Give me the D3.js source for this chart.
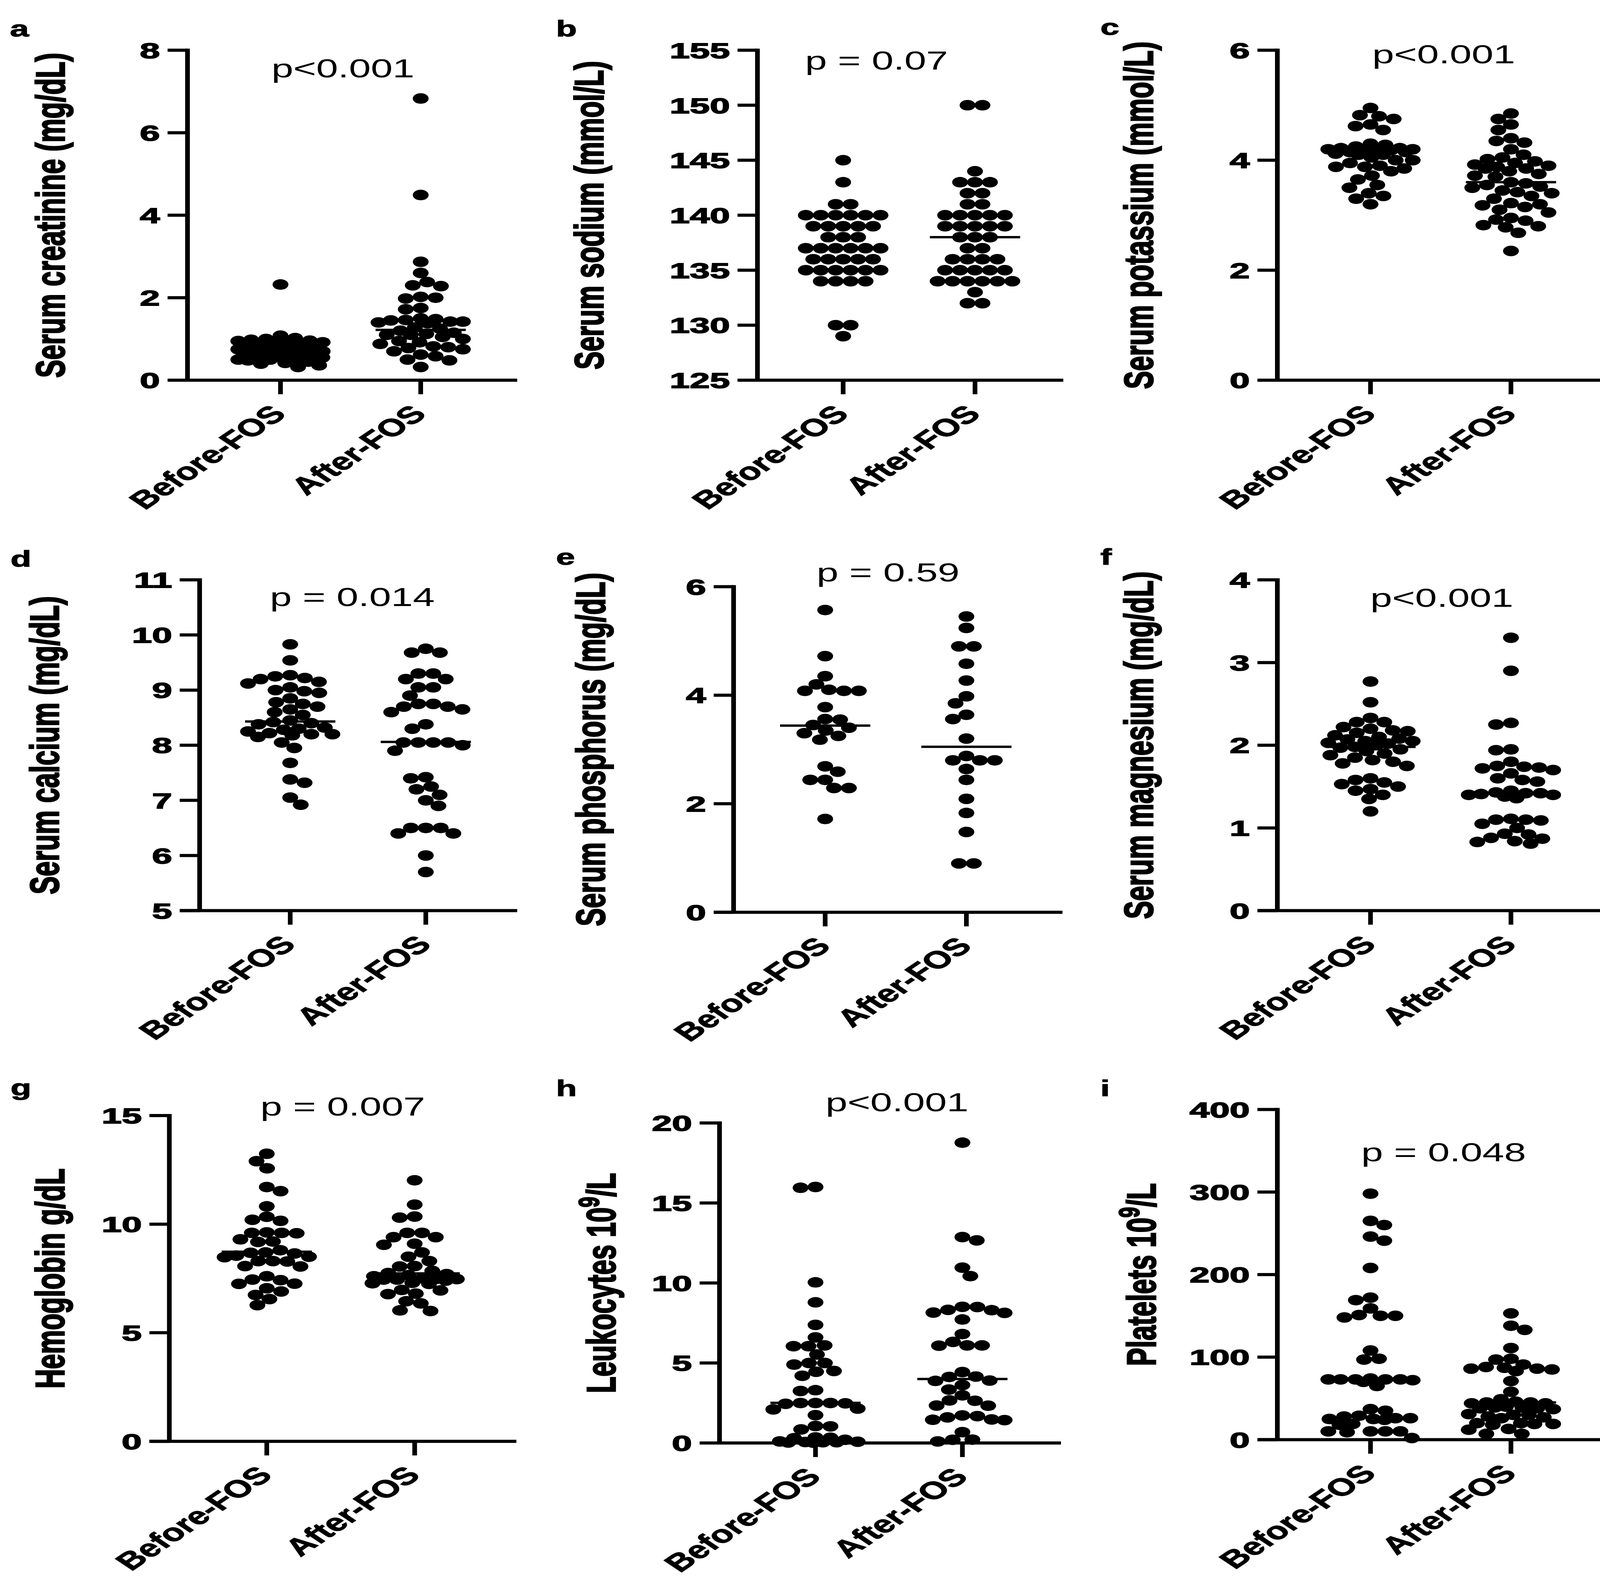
<!DOCTYPE html>
<html><head><meta charset="utf-8">
<script src="https://cdn.jsdelivr.net/npm/d3@7"></script>
<style>html,body{margin:0;padding:0;background:#fff;} svg{display:block;}</style>
</head><body>
<script>
// ---------------- DATA ----------------
const groups = ["Before-FOS", "After-FOS"];

const creatBefore = [2.32, 1.08, 1.02, 1.0, 0.98, 0.96, 0.95, 0.92, 0.9, 0.88, 0.86, 0.85, 0.82, 0.8, 0.8, 0.78, 0.76, 0.75, 0.72, 0.7, 0.7, 0.68, 0.66, 0.65, 0.63, 0.62, 0.6, 0.6, 0.58, 0.56, 0.55, 0.52, 0.5, 0.5, 0.48, 0.45, 0.42, 0.4, 0.36, 0.32];
const creatAfter = [6.83, 4.49, 2.87, 2.6, 2.38, 2.3, 2.28, 2.02, 2.0, 1.98, 1.75, 1.72, 1.5, 1.48, 1.46, 1.45, 1.42, 1.42, 1.4, 1.38, 1.28, 1.25, 1.2, 1.15, 1.12, 1.1, 1.1, 1.05, 1.0, 0.95, 0.92, 0.88, 0.82, 0.8, 0.78, 0.75, 0.7, 0.62, 0.58, 0.5, 0.48, 0.32];
const creatMedian = [0.65, 1.22];

const sodiumBefore = [145, 143, 141, 141, 140, 140, 140, 140, 140, 140, 139, 139, 139, 139, 139, 138, 138, 138, 137, 137, 137, 137, 137, 137, 136, 136, 136, 136, 136, 135, 135, 135, 135, 135, 135, 134, 134, 134, 134, 130, 130, 129];
const sodiumAfter = [150, 150, 144, 143, 143, 143, 142, 142, 141, 141, 140, 140, 140, 140, 140, 139, 139, 139, 139, 139, 138, 138, 138, 137, 137, 136, 136, 136, 136, 135, 135, 135, 135, 135, 134, 134, 134, 134, 134, 134, 133, 132, 132];
const sodiumMedian = [137, 138];

const potBefore = [4.95, 4.82, 4.8, 4.75, 4.65, 4.62, 4.55, 4.3, 4.28, 4.25, 4.22, 4.22, 4.2, 4.2, 4.2, 4.18, 4.18, 4.15, 4.15, 4.12, 4.1, 4.1, 4.05, 4.0, 4.0, 3.95, 3.9, 3.88, 3.88, 3.85, 3.8, 3.72, 3.65, 3.55, 3.5, 3.4, 3.35, 3.3, 3.2];
const potAfter = [4.85, 4.75, 4.65, 4.55, 4.4, 4.35, 4.32, 4.2, 4.1, 4.05, 4.02, 3.98, 3.95, 3.92, 3.9, 3.88, 3.85, 3.85, 3.8, 3.75, 3.72, 3.7, 3.6, 3.58, 3.55, 3.52, 3.5, 3.45, 3.42, 3.4, 3.35, 3.3, 3.22, 3.2, 3.18, 3.15, 3.1, 3.05, 2.95, 2.92, 2.9, 2.82, 2.8, 2.78, 2.68, 2.35];
const potMedian = [4.18, 3.6];

const calBefore = [9.83, 9.54, 9.27, 9.25, 9.22, 9.2, 9.15, 9.12, 9.05, 9.0, 8.98, 8.95, 8.85, 8.78, 8.75, 8.7, 8.65, 8.6, 8.55, 8.45, 8.42, 8.4, 8.38, 8.32, 8.3, 8.28, 8.25, 8.22, 8.2, 8.2, 8.18, 8.15, 8.05, 7.95, 7.68, 7.38, 7.32, 7.05, 6.92];
const calAfter = [9.75, 9.68, 9.68, 9.3, 9.3, 9.2, 9.2, 9.05, 9.05, 8.9, 8.75, 8.75, 8.7, 8.7, 8.65, 8.6, 8.38, 8.3, 8.05, 8.05, 8.05, 8.05, 8.0, 7.9, 7.42, 7.4, 7.25, 7.2, 7.1, 7.0, 6.9, 6.5, 6.5, 6.5, 6.4, 6.4, 6.0, 5.7];
const calMedian = [8.43, 8.06];

const phosBefore = [5.57, 4.72, 4.35, 4.2, 4.08, 4.08, 4.1, 4.08, 3.78, 3.56, 3.55, 3.45, 3.4, 3.35, 3.3, 3.25, 3.18, 2.69, 2.59, 2.44, 2.44, 2.29, 2.29, 1.72];
const phosAfter = [5.45, 5.24, 4.9, 4.9, 4.58, 4.27, 3.98, 3.85, 3.64, 3.56, 3.2, 2.88, 2.8, 2.8, 2.8, 2.64, 2.44, 2.09, 1.83, 1.48, 0.9, 0.9];
const phosMedian = [3.44, 3.05];

const magBefore = [2.77, 2.52, 2.33, 2.28, 2.28, 2.22, 2.2, 2.18, 2.17, 2.15, 2.12, 2.1, 2.08, 2.07, 2.05, 2.05, 2.03, 2.02, 2.0, 1.98, 1.97, 1.95, 1.93, 1.9, 1.88, 1.85, 1.82, 1.8, 1.78, 1.75, 1.6, 1.58, 1.55, 1.53, 1.5, 1.47, 1.45, 1.4, 1.35, 1.2];
const magAfter = [3.3, 2.9, 2.27, 2.25, 1.95, 1.94, 1.8, 1.75, 1.74, 1.73, 1.72, 1.7, 1.66, 1.6, 1.58, 1.56, 1.45, 1.43, 1.42, 1.42, 1.41, 1.4, 1.4, 1.38, 1.36, 1.11, 1.1, 1.1, 1.09, 1.05, 1.0, 0.93, 0.92, 0.88, 0.87, 0.84, 0.83, 0.81];
const magMedian = [1.98, 1.42];

const hbBefore = [13.24, 12.9, 12.57, 11.71, 11.52, 10.82, 10.34, 10.2, 10.15, 9.62, 9.6, 9.6, 9.58, 9.3, 9.2, 9.18, 8.8, 8.7, 8.68, 8.65, 8.55, 8.5, 8.48, 8.3, 8.3, 8.28, 8.07, 8.05, 7.6, 7.45, 7.42, 7.26, 7.25, 7.05, 6.9, 6.74, 6.55, 6.27];
const hbAfter = [12.02, 10.9, 10.35, 10.3, 9.6, 9.6, 9.4, 9.4, 9.1, 9.05, 8.7, 8.5, 8.3, 8.07, 8.05, 7.85, 7.75, 7.7, 7.65, 7.6, 7.5, 7.48, 7.47, 7.45, 7.45, 7.4, 7.3, 7.28, 7.25, 6.97, 6.95, 6.8, 6.78, 6.45, 6.35, 6.03, 6.0];
const hbMedian = [8.73, 7.73];

const leuBefore = [16.0, 15.95, 10.04, 8.79, 7.38, 6.6, 6.1, 6.05, 6.05, 5.53, 5.0, 5.0, 4.9, 4.5, 4.45, 4.2, 3.3, 3.25, 2.5, 2.5, 2.5, 2.48, 2.45, 2.15, 2.1, 1.74, 1.06, 1.04, 0.85, 0.35, 0.33, 0.3, 0.2, 0.1, 0.08, 0.06, 0.05, 0.05, 0.03, 0.02];
const leuAfter = [18.77, 12.87, 12.66, 10.96, 10.43, 8.51, 8.5, 8.32, 8.3, 8.15, 8.13, 7.72, 6.81, 6.32, 6.1, 6.1, 6.08, 4.43, 4.15, 4.13, 3.9, 3.88, 3.62, 3.34, 2.98, 2.66, 2.64, 2.34, 2.33, 1.72, 1.68, 1.6, 1.47, 1.45, 1.43, 0.68, 0.21, 0.2, 0.1];
const leuMedian = [2.51, 4.0];

const pltBefore = [298, 265, 260, 246, 241, 208, 172, 169, 159, 151, 150, 150, 148, 108, 98, 97, 74, 73, 73, 73, 73, 73, 72, 70, 65, 37, 35, 29, 28, 26, 26, 25, 25, 24, 19, 18, 10, 10, 10, 10, 9, 2];
const pltAfter = [153, 138, 133, 111, 98, 97, 91, 88, 87, 86, 86, 85, 83, 71, 58, 49, 46, 45, 45, 44, 44, 40, 39, 39, 38, 38, 37, 31, 30, 30, 28, 27, 26, 20, 20, 19, 19, 18, 13, 12, 7, 7];
const pltMedian = [74, 45];

const panelLetters = ["a", "b", "c", "d", "e", "f", "g", "h", "i"];
const yTitles = ["Serum creatinine (mg/dL)", "Serum sodium (mmol/L)", "Serum potassium (mmol/L)",
  "Serum calcium (mg/dL)", "Serum phosphorus (mg/dL)", "Serum magnesium (mg/dL)",
  "Hemoglobin g/dL", "Leukocytes 10|9|/L", "Platelets 10|9|/L"];
const pTexts = ["p<0.001", "p = 0.07", "p<0.001", "p = 0.014", "p = 0.59", "p<0.001", "p = 0.007", "p<0.001", "p = 0.048"];
const yDomains = [[0, 8], [125, 155], [0, 6], [5, 11], [0, 6], [0, 4], [0, 15], [0, 20], [0, 400]];
const yTicks = [[0, 2, 4, 6, 8], [125, 130, 135, 140, 145, 150, 155], [0, 2, 4, 6], [5, 6, 7, 8, 9, 10, 11],
  [0, 2, 4, 6], [0, 1, 2, 3, 4], [0, 5, 10, 15], [0, 5, 10, 15, 20], [0, 100, 200, 300, 400]];
const seriesBefore = [creatBefore, sodiumBefore, potBefore, calBefore, phosBefore, magBefore, hbBefore, leuBefore, pltBefore];
const seriesAfter = [creatAfter, sodiumAfter, potAfter, calAfter, phosAfter, magAfter, hbAfter, leuAfter, pltAfter];
const medians = [creatMedian, sodiumMedian, potMedian, calMedian, phosMedian, magMedian, hbMedian, leuMedian, pltMedian];

// ---------------- LAYOUT (natural units; whole figure is stretched horizontally) ----------------
const SX = 1.5;
const W = 4137, H = 4059;
const layout = [
  {ax: 320,    yTop: 128.6,  yBot: 973,    xEnd: 882.7,  c: [478.7, 718],    pX: 585.3, pY: 198,  tX: 110,  lX: 17,   lY: 93},
  {ax: 1292.7, yTop: 128.6,  yBot: 973,    xEnd: 1814.7, c: [1439, 1664],    pX: 1496,  pY: 178,  tX: 1029, lX: 949,  lY: 93},
  {ax: 2180,   yTop: 128.6,  yBot: 973,    xEnd: 2743.3, c: [2339, 2578.7],  pX: 2464,  pY: 162,  tX: 1967, lX: 1878, lY: 89},
  {ax: 340.7,  yTop: 1484,   yBot: 2330.5, xEnd: 882.7,  c: [495.3, 726.7],  pX: 601.3, pY: 1551, tX: 100,  lX: 18,   lY: 1450},
  {ax: 1252,   yTop: 1501.4, yBot: 2334.8, xEnd: 1813.3, c: [1408.3, 1649.3],pX: 1515.7,pY: 1488, tX: 1032, lX: 949,  lY: 1445},
  {ax: 2180,   yTop: 1484,   yBot: 2330.5, xEnd: 2743.3, c: [2339, 2578.7],  pX: 2460.7,pY: 1553, tX: 1967, lX: 1878, lY: 1445},
  {ax: 289,    yTop: 2855,   yBot: 3688.8, xEnd: 881.3,  c: [455.3, 707.7],  pX: 585,   pY: 2855, tX: 109,  lX: 18,   lY: 2803},
  {ax: 1228,   yTop: 2874,   yBot: 3693,   xEnd: 1810.7, c: [1391.8, 1642.5],pX: 1531,  pY: 2844, tX: 1050, lX: 949,  lY: 2805},
  {ax: 2180,   yTop: 2839.4, yBot: 3684.4, xEnd: 2743.3, c: [2339, 2578.7],  pX: 2463.8,pY: 2972, tX: 1972, lX: 1878, lY: 2805}
];

const FONT = "'Liberation Sans', Arial, Helvetica, sans-serif";
const SW = 8;          // axis stroke
const TICKLEN = 34;    // y tick length
const XTICKLEN = 36;   // x tick length
const R = 13.5;        // dot radius
const DMIN = 25.5;     // swarm spacing
const HALFW = 72;      // swarm half width
const MEDHALF = 77;    // median line half width

const svg = d3.select("body").append("svg")
  .attr("width", W).attr("height", H)
  .attr("viewBox", `0 0 ${W / SX} ${H}`)
  .attr("preserveAspectRatio", "none");
svg.append("rect").attr("width", W / SX).attr("height", H).attr("fill", "#fff");

function swarm(values, yScale) {
  const sorted = values.slice().sort((a, b) => b - a);
  const placed = [];
  function pen(o, yy) {
    let m = -Infinity;
    for (const p of placed) {
      const d = Math.hypot(p.x - o, p.y - yy);
      m = Math.max(m, DMIN - d);
    }
    return m;
  }
  let flip = 1;
  function best(yy) {
    let bo = 0, bs = Infinity;
    for (let s = 0; s <= HALFW; s += 0.5) {
      for (const sg of (s === 0 ? [1] : [flip, -flip])) {
        const o = s * sg;
        const p = pen(o, yy);
        const score = p <= 0 ? s : 1e5 + p * 50 + s * 0.01;
        if (score < bs) { bs = score; bo = o; }
      }
    }
    flip = -flip;
    return bo;
  }
  let i = 0;
  while (i < sorted.length) {
    let j = i;
    while (j < sorted.length && sorted[j] === sorted[i]) j++;
    const k = j - i, yy = yScale(sorted[i]);
    let ok = false;
    if (k > 1 && (k - 1) * DMIN / 2 <= HALFW) {
      const offs = d3.range(k).map(q => (q - (k - 1) / 2) * DMIN);
      ok = offs.every(o => pen(o, yy) <= 0);
      if (ok) offs.forEach(o => placed.push({v: sorted[i], x: o, y: yy}));
    }
    if (!ok) {
      for (let q = i; q < j; q++) placed.push({v: sorted[q], x: best(yy), y: yy});
    }
    i = j;
  }
  return placed;
}

layout.forEach((L, idx) => {
  const g = svg.append("g");
  const y = d3.scaleLinear().domain(yDomains[idx]).range([L.yBot, L.yTop]);
  const x = d3.scaleOrdinal().domain(groups).range(L.c);

  // axes
  g.append("line").attr("x1", L.ax).attr("x2", L.ax).attr("y1", y(yDomains[idx][1]) - SW / 2).attr("y2", L.yBot)
    .attr("stroke", "#000").attr("stroke-width", SW);
  g.append("line").attr("x1", L.ax - TICKLEN).attr("x2", L.xEnd).attr("y1", L.yBot).attr("y2", L.yBot)
    .attr("stroke", "#000").attr("stroke-width", SW);
  g.selectAll(".yt").data(yTicks[idx]).enter().append("line")
    .attr("x1", L.ax - TICKLEN).attr("x2", L.ax).attr("y1", d => y(d)).attr("y2", d => y(d))
    .attr("stroke", "#000").attr("stroke-width", SW);
  g.selectAll(".yl").data(yTicks[idx]).enter().append("text")
    .attr("transform", d => `translate(${L.ax - TICKLEN - 13},${y(d)}) scale(1.1,1)`)
    .attr("dy", "0.36em").attr("text-anchor", "end")
    .attr("font-family", FONT).attr("font-weight", "bold").attr("font-size", 56)
    .attr("stroke", "#000").attr("stroke-width", 2)
    .text(d => d);
  g.selectAll(".xt").data(groups).enter().append("line")
    .attr("x1", d => x(d)).attr("x2", d => x(d)).attr("y1", L.yBot).attr("y2", L.yBot + XTICKLEN)
    .attr("stroke", "#000").attr("stroke-width", SW);
  g.selectAll(".xl").data(groups).enter().append("text")
    .attr("transform", d => `translate(${x(d) + 12},${L.yBot + 90}) rotate(-45)`)
    .attr("text-anchor", "end")
    .attr("font-family", FONT).attr("font-weight", "bold").attr("font-size", 62)
    .attr("stroke", "#000").attr("stroke-width", 1.5)
    .text(d => d);

  // y title
  const parts = yTitles[idx].split("|");
  const t = g.append("text")
    .attr("transform", `translate(${L.tX},${(L.yTop + L.yBot) / 2}) rotate(-90)`)
    .attr("text-anchor", "middle")
    .attr("font-family", FONT).attr("font-weight", "bold").attr("font-size", 69)
    .attr("stroke", "#000").attr("stroke-width", 2.5);
  t.append("tspan").text(parts[0]);
  if (parts.length > 1) {
    t.append("tspan").attr("dy", -28).attr("font-size", 48).text(parts[1]);
    t.append("tspan").attr("dy", 28).text(parts[2]);
  }

  // p value
  g.append("text").attr("x", L.pX).attr("y", L.pY).attr("text-anchor", "middle")
    .attr("font-family", FONT).attr("font-size", 67).text(pTexts[idx]);

  // panel letter
  g.append("text").attr("x", L.lX).attr("y", L.lY)
    .attr("font-family", FONT).attr("font-weight", "bold").attr("font-size", 58)
    .attr("stroke", "#000").attr("stroke-width", 1.5).text(panelLetters[idx]);

  // dots
  [seriesBefore[idx], seriesAfter[idx]].forEach((vals, gi) => {
    const pts = swarm(vals, y);
    const cx = x(groups[gi]);
    g.selectAll(null).data(pts).enter().append("circle")
      .attr("cx", d => cx + d.x).attr("cy", d => d.y).attr("r", R).attr("fill", "#000");
    g.append("line")
      .attr("x1", cx - MEDHALF).attr("x2", cx + MEDHALF)
      .attr("y1", y(medians[idx][gi])).attr("y2", y(medians[idx][gi]))
      .attr("stroke", "#000").attr("stroke-width", 6);
  });
});
</script>
</body></html>
